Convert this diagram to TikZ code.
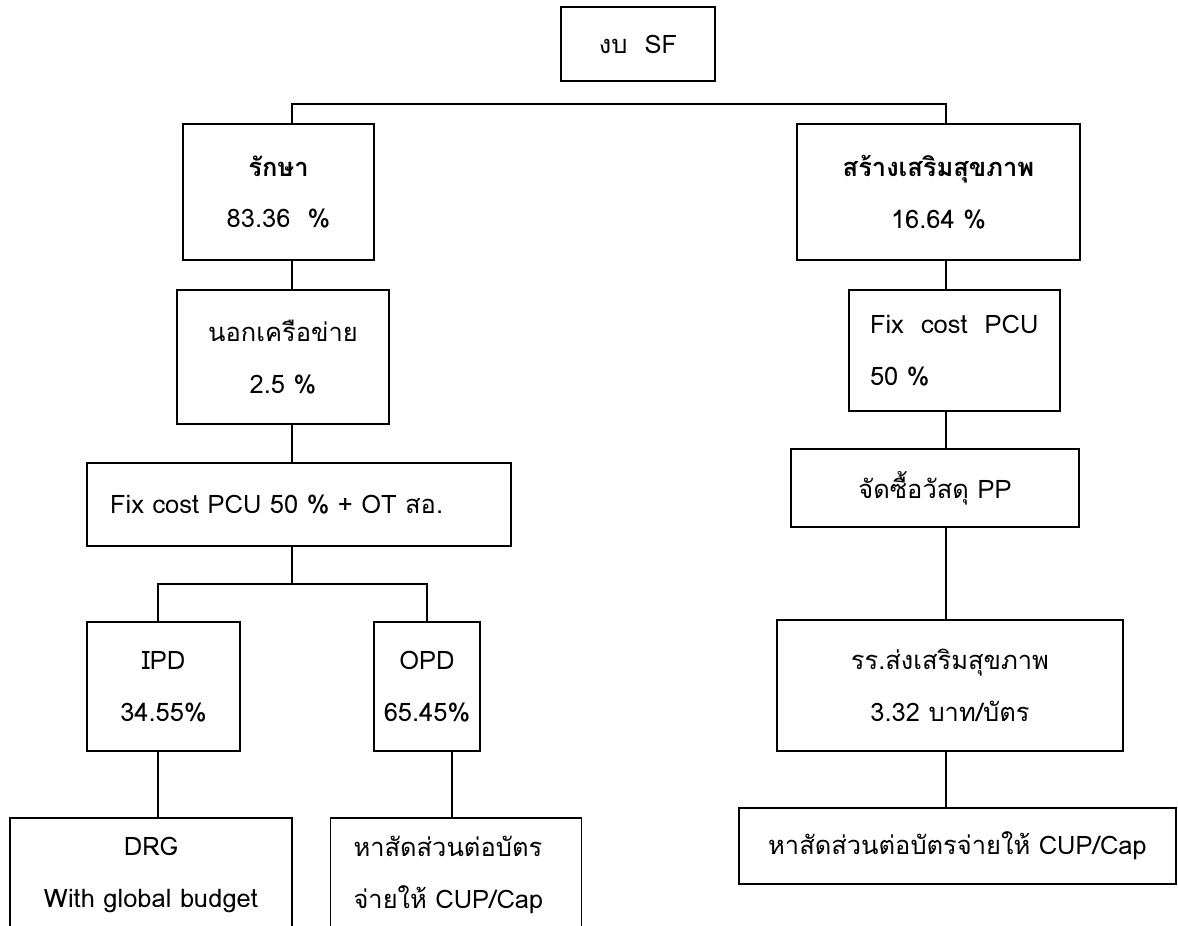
\documentclass[tikz,border=0pt]{standalone}
\usepackage{fontspec}
\setmainfont[Script=Thai]{Loma}
\begin{document}
\begin{tikzpicture}[x=0.02cm,y=-0.02cm,line width=0.8pt,
  box/.style={draw,align=center,inner sep=0pt,font=\fontsize{14.5}{29.5}\selectfont},
  lbox/.style={box,align=left,inner xsep=0.46cm}]
\useasboundingbox (0,0) rectangle (1178,926);
\node[box,minimum width=3.08cm,minimum height=1.48cm] (sf) at (638,44) {งบ\ \ SF};
\node[box,minimum width=3.82cm,minimum height=2.72cm] (treat) at (278.5,192) {\textbf{รักษา}\\83.36\ \ \%};
\node[box,minimum width=5.66cm,minimum height=2.72cm] (promo) at (938.5,192) {\textbf{สร้างเสริมสุขภาพ}\\16.64 \%};
\node[box,minimum width=4.24cm,minimum height=2.68cm] (outnet) at (283,357) {นอกเครือข่าย\\2.5 \%};
\node[lbox,inner xsep=0.42cm,text width=3.38cm,minimum height=2.42cm] (fixpcu) at (954.5,350.5) {Fix\ \ cost\ \ PCU\\50 \%};
\node[lbox,text width=7.56cm,minimum height=1.66cm] (fixot) at (299,504.5) {Fix cost PCU 50 \% + OT สอ.};
\node[box,minimum width=5.76cm,minimum height=1.56cm] (buy) at (935,488) {จัดซื้อวัสดุ PP};
\node[box,minimum width=3.06cm,minimum height=2.58cm] (ipd) at (163.5,686.5) {IPD\\34.55\%};
\node[box,minimum width=2.12cm,minimum height=2.58cm] (opd) at (427,686.5) {OPD\\65.45\%};
\node[box,minimum width=6.92cm,minimum height=2.62cm] (rr) at (950,685.5) {รร.ส่งเสริมสุขภาพ\\3.32 บาท/บัตร};
\node[box,minimum width=5.64cm,minimum height=2.28cm] (drg) at (151,875) {DRG\\With global budget};
\node[lbox,text width=4.1cm,minimum height=2.28cm] (cap) at (456,875) {หาสัดส่วนต่อบัตร\\จ่ายให้ CUP/Cap};
\node[box,minimum width=8.74cm,minimum height=1.52cm] (capall) at (957.5,846) {หาสัดส่วนต่อบัตรจ่ายให้ CUP/Cap};
\coordinate (lj) at (292,104);
\coordinate (rj) at (946,104);
\coordinate (lsplit) at (292,584);
\coordinate (ipdj) at (158,584);
\coordinate (opdj) at (427,584);
\coordinate (opdx) at (452,790);
\draw (treat.north -| lj) -- (lj) -- (rj) -- (promo.north -| rj);
\draw (treat.south -| lj) -- (outnet.north -| lj);
\draw (outnet.south -| lj) -- (fixot.north -| lj);
\draw (fixot.south -| lj) -- (lsplit);
\draw (ipd.north -| ipdj) -- (ipdj) -- (opdj) -- (opd.north -| opdj);
\draw (ipd.south -| ipdj) -- (drg.north -| ipdj);
\draw (opd.south -| opdx) -- (cap.north -| opdx);
\draw (promo.south -| rj) -- (fixpcu.north -| rj);
\draw (fixpcu.south -| rj) -- (buy.north -| rj);
\draw (buy.south -| rj) -- (rr.north -| rj);
\draw (rr.south -| rj) -- (capall.north -| rj);
\end{tikzpicture}
\end{document}
